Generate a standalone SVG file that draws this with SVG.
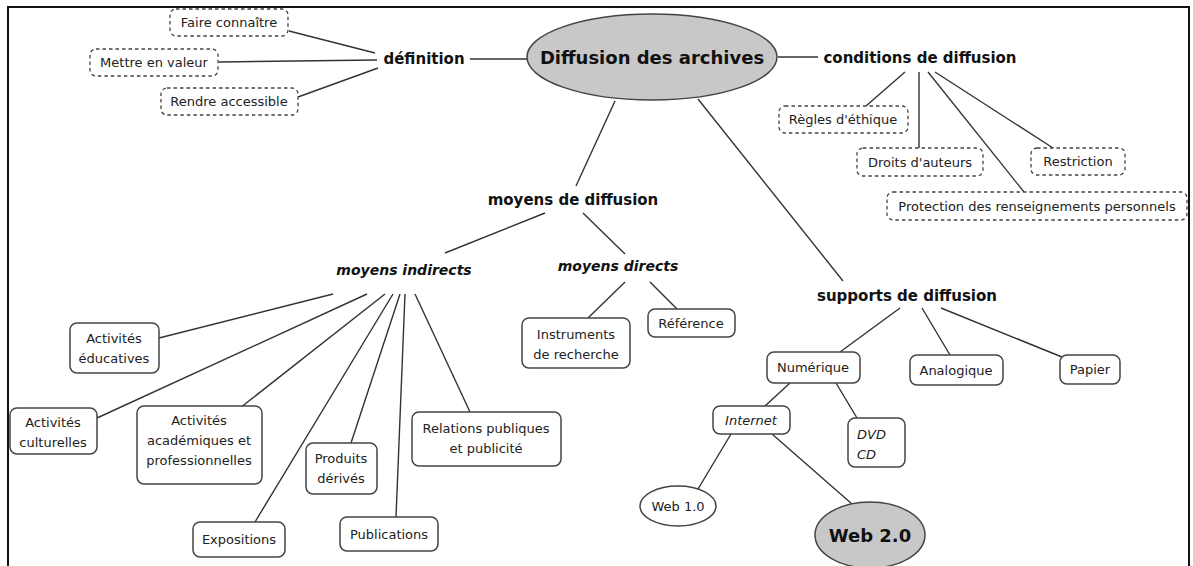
<svg xmlns="http://www.w3.org/2000/svg" width="1193" height="566" viewBox="0 0 1193 566">
<style>
.t{font-family:"DejaVu Sans","Liberation Sans",sans-serif;font-size:13px;fill:#222;text-anchor:middle}
.b{font-family:"DejaVu Sans","Liberation Sans",sans-serif;font-size:15px;font-weight:bold;fill:#111;text-anchor:middle}
.bi{font-family:"DejaVu Sans","Liberation Sans",sans-serif;font-size:14px;font-weight:bold;font-style:italic;fill:#111;text-anchor:middle}
.big{font-family:"DejaVu Sans","Liberation Sans",sans-serif;font-size:18px;font-weight:bold;fill:#111;text-anchor:middle}
.i{font-style:italic}
.d{fill:#fff;stroke:#444;stroke-width:1.3;stroke-dasharray:3.5 3}
.r{fill:#fff;stroke:#444;stroke-width:1.5}
.e{fill:#c8c8c8;stroke:#444;stroke-width:1.5}
.c line{stroke:#333;stroke-width:1.4}
</style>
<rect x="8" y="7" width="1181" height="570" fill="#fff" stroke="#111" stroke-width="2"/>
<g class="c" id="connectors">
<line x1="289" y1="31" x2="375" y2="53"/>
<line x1="219" y1="62" x2="377" y2="60"/>
<line x1="298" y1="97" x2="378" y2="68"/>
<line x1="470" y1="59" x2="527" y2="59"/>
<line x1="778" y1="57" x2="818" y2="57"/>
<line x1="905" y1="72" x2="866" y2="106"/>
<line x1="919" y1="72" x2="919" y2="148"/>
<line x1="928" y1="72" x2="1024" y2="192"/>
<line x1="935" y1="72" x2="1053" y2="148"/>
<line x1="615" y1="101" x2="576" y2="186"/>
<line x1="698" y1="99" x2="843" y2="281"/>
<line x1="545" y1="213" x2="445" y2="253"/>
<line x1="583" y1="213" x2="625" y2="254"/>
<line x1="625" y1="282" x2="588" y2="318"/>
<line x1="650" y1="282" x2="677" y2="309"/>
<line x1="333" y1="294" x2="159" y2="338"/>
<line x1="367" y1="294" x2="97" y2="418"/>
<line x1="385" y1="294" x2="240" y2="408"/>
<line x1="393" y1="294" x2="255" y2="522"/>
<line x1="400" y1="294" x2="351" y2="443"/>
<line x1="405" y1="294" x2="396" y2="517"/>
<line x1="415" y1="294" x2="470" y2="412"/>
<line x1="900" y1="308" x2="840" y2="352"/>
<line x1="922" y1="308" x2="950" y2="355"/>
<line x1="941" y1="308" x2="1062" y2="357"/>
<line x1="790" y1="383" x2="765" y2="406"/>
<line x1="836" y1="383" x2="857" y2="418"/>
<line x1="731" y1="434" x2="698" y2="489"/>
<line x1="772" y1="434" x2="852" y2="504"/>
</g>
<g id="n-faire"><rect class="d" x="170" y="9" width="118" height="27" rx="6"/><text class="t" x="229" y="27">Faire connaître</text></g>
<g id="n-mettre"><rect class="d" x="90" y="49" width="128" height="27" rx="6"/><text class="t" x="154" y="67">Mettre en valeur</text></g>
<g id="n-rendre"><rect class="d" x="161" y="88" width="137" height="27" rx="6"/><text class="t" x="229" y="106">Rendre accessible</text></g>
<g id="n-definition"><text class="b" x="424" y="64">définition</text></g>
<g id="n-main"><ellipse class="e" cx="652" cy="57" rx="125" ry="43"/><text class="big" x="652" y="64">Diffusion des archives</text></g>
<g id="n-conditions"><text class="b" x="920" y="63">conditions de diffusion</text></g>
<g id="n-regles"><rect class="d" x="779" y="106" width="129" height="27" rx="6"/><text class="t" x="843" y="124">Règles d'éthique</text></g>
<g id="n-droits"><rect class="d" x="857" y="148" width="126" height="28" rx="6"/><text class="t" x="920" y="167">Droits d'auteurs</text></g>
<g id="n-restriction"><rect class="d" x="1031" y="148" width="94" height="27" rx="6"/><text class="t" x="1078" y="166">Restriction</text></g>
<g id="n-protection"><rect class="d" x="887" y="192" width="300" height="28" rx="6"/><text class="t" x="1037" y="211">Protection des renseignements personnels</text></g>
<g id="n-moyens"><text class="b" x="573" y="205">moyens de diffusion</text></g>
<g id="n-indirects"><text class="bi" x="404" y="275">moyens indirects</text></g>
<g id="n-directs"><text class="bi" x="618" y="271">moyens directs</text></g>
<g id="n-instruments"><rect class="r" x="522" y="318" width="108" height="50" rx="7"/><text class="t" x="576" y="339">Instruments</text><text class="t" x="576" y="359">de recherche</text></g>
<g id="n-reference"><rect class="r" x="648" y="309" width="87" height="28" rx="7"/><text class="t" x="691" y="328">Référence</text></g>
<g id="n-educatives"><rect class="r" x="70" y="323" width="89" height="50" rx="7"/><text class="t" x="114" y="343">Activités</text><text class="t" x="114" y="363">éducatives</text></g>
<g id="n-culturelles"><rect class="r" x="10" y="408" width="87" height="46" rx="7"/><text class="t" x="53" y="427">Activités</text><text class="t" x="53" y="447">culturelles</text></g>
<g id="n-academiques"><rect class="r" x="137" y="406" width="125" height="78" rx="7"/><text class="t" x="199" y="425">Activités</text><text class="t" x="199" y="445">académiques et</text><text class="t" x="199" y="465">professionnelles</text></g>
<g id="n-expositions"><rect class="r" x="193" y="522" width="92" height="35" rx="7"/><text class="t" x="239" y="544">Expositions</text></g>
<g id="n-produits"><rect class="r" x="306" y="443" width="71" height="51" rx="7"/><text class="t" x="341" y="463">Produits</text><text class="t" x="341" y="483">dérivés</text></g>
<g id="n-publications"><rect class="r" x="340" y="517" width="98" height="34" rx="7"/><text class="t" x="389" y="539">Publications</text></g>
<g id="n-relations"><rect class="r" x="412" y="412" width="149" height="54" rx="7"/><text class="t" x="486" y="433">Relations publiques</text><text class="t" x="486" y="453">et publicité</text></g>
<g id="n-supports"><text class="b" x="907" y="301">supports de diffusion</text></g>
<g id="n-numerique"><rect class="r" x="767" y="352" width="93" height="31" rx="7"/><text class="t" x="813" y="372">Numérique</text></g>
<g id="n-analogique"><rect class="r" x="910" y="355" width="93" height="30" rx="7"/><text class="t" x="956" y="375">Analogique</text></g>
<g id="n-papier"><rect class="r" x="1060" y="355" width="60" height="29" rx="7"/><text class="t" x="1090" y="374">Papier</text></g>
<g id="n-internet"><rect class="r" x="713" y="406" width="77" height="28" rx="7"/><text class="t i" x="751" y="425">Internet</text></g>
<g id="n-dvd"><rect class="r" x="848" y="418" width="57" height="49" rx="7"/><text class="t i" x="857" y="439" text-anchor="start" style="text-anchor:start">DVD</text><text class="t i" x="857" y="459" style="text-anchor:start">CD</text></g>
<g id="n-web1"><ellipse class="r" cx="678" cy="506" rx="38" ry="20"/><text class="t" x="678" y="511">Web 1.0</text></g>
<g id="n-web2"><ellipse class="e" cx="870" cy="535" rx="55" ry="33"/><text class="big" x="870" y="542">Web 2.0</text></g>
</svg>
